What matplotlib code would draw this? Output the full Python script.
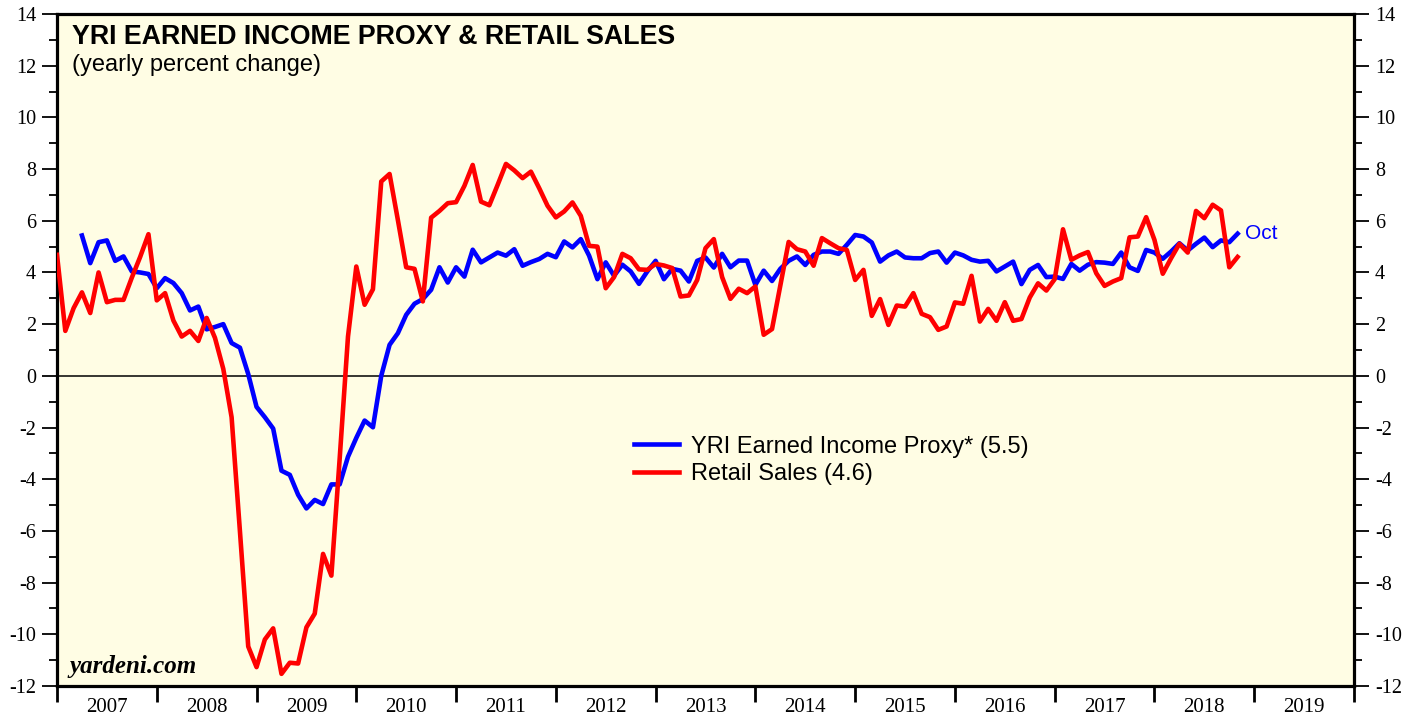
import numpy as np
import pandas as pd
import matplotlib
matplotlib.use('Agg')
import matplotlib.pyplot as plt
from matplotlib.ticker import MultipleLocator, FixedLocator, NullFormatter

plt.rcParams['font.family'] = 'Liberation Sans'
plt.rcParams['axes.unicode_minus'] = False

# monthly data, yearly percent change
retail_start = '2006-12'
retail_sales = [
    4.68, 1.74, 2.62, 3.23, 2.43, 4.00, 2.85, 2.94, 2.94, 3.80, 4.60, 5.48,
    2.92, 3.20, 2.14, 1.52, 1.74, 1.35, 2.24, 1.47, 0.27, -1.60, -6.00, -10.47,
    -11.27, -10.20, -9.77, -11.53, -11.10, -11.13, -9.73, -9.20, -6.89, -7.73, -3.20, 1.52,
    4.23, 2.75, 3.35, 7.52, 7.81, 6.03, 4.20, 4.14, 2.88, 6.12, 6.38, 6.68,
    6.72, 7.35, 8.16, 6.74, 6.60, 7.39, 8.20, 7.95, 7.65, 7.90, 7.26, 6.58,
    6.13, 6.36, 6.71, 6.19, 5.03, 5.00, 3.39, 3.82, 4.72, 4.55, 4.12, 4.10,
    4.33, 4.27, 4.17, 3.07, 3.11, 3.71, 4.94, 5.29, 3.82, 2.98, 3.37, 3.20,
    3.46, 1.59, 1.81, 3.50, 5.18, 4.90, 4.81, 4.26, 5.33, 5.13, 4.94, 4.87,
    3.71, 4.10, 2.32, 2.97, 1.97, 2.72, 2.68, 3.20, 2.40, 2.27, 1.78, 1.91,
    2.84, 2.79, 3.87, 2.10, 2.59, 2.13, 2.85, 2.13, 2.20, 3.03, 3.58, 3.30,
    3.74, 5.67, 4.49, 4.66, 4.79, 3.97, 3.48, 3.65, 3.78, 5.36, 5.39, 6.14,
    5.26, 3.95, 4.55, 5.11, 4.77, 6.38, 6.10, 6.62, 6.40, 4.20, 4.60,
]

income_start = '2007-03'
income_proxy = [
    5.43, 4.36, 5.17, 5.24, 4.45, 4.62, 4.04, 4.00, 3.94,
    3.39, 3.78, 3.59, 3.20, 2.53, 2.68, 1.80, 1.89, 2.00, 1.27, 1.09, 0.07,
    -1.20, -1.60, -2.04, -3.67, -3.83, -4.60, -5.13, -4.80, -4.96, -4.20, -4.20, -3.13,
    -2.40, -1.73, -1.99, 0.00, 1.20, 1.65, 2.36, 2.79, 2.97, 3.33, 4.20, 3.61,
    4.20, 3.84, 4.88, 4.39, 4.58, 4.77, 4.65, 4.90, 4.26, 4.40, 4.52, 4.72,
    4.59, 5.20, 4.97, 5.29, 4.65, 3.74, 4.39, 3.87, 4.30, 4.04, 3.56, 4.04,
    4.45, 3.74, 4.14, 4.07, 3.65, 4.45, 4.58, 4.19, 4.72, 4.20, 4.46, 4.46,
    3.52, 4.07, 3.67, 4.14, 4.45, 4.62, 4.29, 4.68, 4.81, 4.81, 4.72, 5.07,
    5.45, 5.39, 5.16, 4.42, 4.66, 4.81, 4.58, 4.55, 4.55, 4.75, 4.81, 4.38,
    4.77, 4.66, 4.49, 4.42, 4.45, 4.04, 4.23, 4.42, 3.55, 4.10, 4.29, 3.82,
    3.84, 3.75, 4.33, 4.07, 4.30, 4.40, 4.38, 4.33, 4.77, 4.20, 4.06, 4.87,
    4.77, 4.53, 4.81, 5.13, 4.85, 5.11, 5.35, 4.98, 5.24, 5.17, 5.50,
]

years = list(range(2007, 2020))
last_month = 'Oct'
income_label = 'YRI Earned Income Proxy* (5.5)'
retail_label = 'Retail Sales (4.6)'


def month_axis(start, n):
    # month plotted at its end, as decimal year
    p = pd.period_range(start, periods=n, freq='M')
    return p.year.values + p.month.values / 12.0


x_retail = month_axis(retail_start, len(retail_sales))
x_income = month_axis(income_start, len(income_proxy))

fig = plt.figure(figsize=(14.19, 7.17), dpi=100)
ax = fig.add_axes([57/1419, 31/717, 1297/1419, 672/717])
ax.set_facecolor('#fffde4')

ax.axhline(0, color='black', lw=1.1, zorder=1)
ax.plot(x_income, income_proxy, color='#0000ff', lw=3.3, label=income_label, zorder=3)
ax.plot(x_retail, retail_sales, color='#ff0000', lw=3.3, label=retail_label, zorder=3)

ax.text(x_income[-1] + 0.07, income_proxy[-1], last_month, color='#0000ff',
        fontsize=15, va='center', ha='left')

ax.set_xlim(2007, 2020)
ax.set_ylim(-12, 14)

# y axis both sides
ax.yaxis.set_major_locator(MultipleLocator(2))
ax.yaxis.set_minor_locator(MultipleLocator(1))
ax.tick_params(axis='y', which='major', direction='out', length=11, width=1.3,
               left=True, right=True, labelleft=True, labelright=True,
               labelsize=14.5, pad=4)
ax.tick_params(axis='y', which='minor', direction='out', length=5.5, width=1.3,
               left=True, right=True)
for lab in ax.get_yticklabels():
    lab.set_family('Liberation Serif')

# x axis: year boundaries as ticks, labels centred in each year
ax.xaxis.set_major_locator(FixedLocator(list(range(2007, 2021))))
ax.xaxis.set_major_formatter(NullFormatter())
ax.xaxis.set_minor_locator(FixedLocator([y + 0.5 for y in years]))
ax.set_xticklabels([str(y) for y in years], minor=True)
ax.tick_params(axis='x', which='major', direction='out', length=11.5, width=2)
ax.tick_params(axis='x', which='minor', length=0, labelsize=15, pad=8.5)
for lab in ax.get_xticklabels(minor=True):
    lab.set_family('Liberation Serif')

for s in ax.spines.values():
    s.set_linewidth(2.3)

ax.text(0.0115, 0.985, 'YRI EARNED INCOME PROXY & RETAIL SALES', transform=ax.transAxes,
        fontsize=19.3, fontweight='bold', va='top', ha='left')
ax.text(0.0115, 0.94, '(yearly percent change)', transform=ax.transAxes,
        fontsize=17, va='top', ha='left')
ax.text(0.0095, 0.012, 'yardeni.com', transform=ax.transAxes, fontsize=18,
        family='Liberation Serif', fontweight='bold', style='italic', va='bottom', ha='left')

ax.legend(loc='center left', bbox_to_anchor=(0.445, 0.3356), frameon=False,
          fontsize=17, handlelength=1.9, handletextpad=0.5, labelspacing=0.23,
          borderpad=0, borderaxespad=0)

fig.savefig('out.png', dpi=100, facecolor='white')
